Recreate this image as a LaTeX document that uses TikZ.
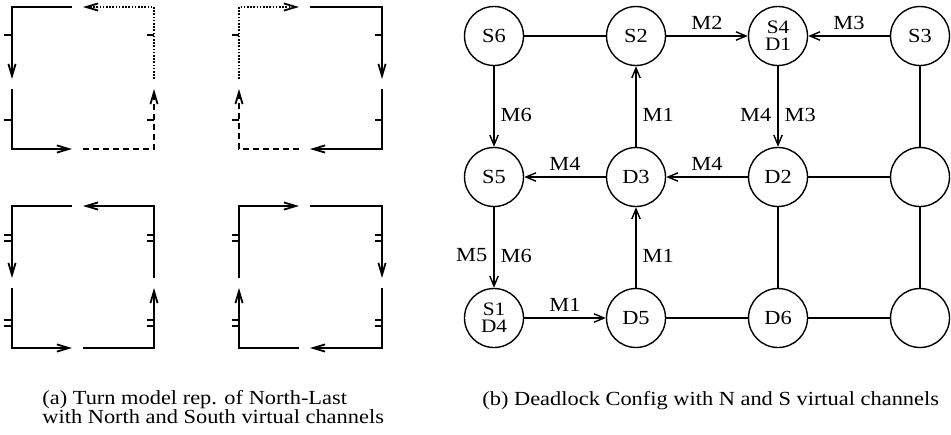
\documentclass[tikz,border=0pt]{standalone}
\usepackage{fontspec}
\setmainfont{Liberation Serif}[FakeStretch=1.12]
\usetikzlibrary{arrows.meta,positioning}

\begin{document}
\begin{tikzpicture}[
    x=0.5pt,y=-0.5pt,
    turn/.style={line width=0.9pt,-{Straight Barb[length=6pt,width=3.6pt]}},
    vcdot/.style={dash pattern=on 0.8pt off 0.8pt},
    vcdash/.style={dash pattern=on 3pt off 2pt},
    notch/.style={line width=0.9pt},
    router/.style={circle,draw,line width=0.7pt,minimum size=29.5pt,inner sep=0pt,font=\fontsize{10}{12}\selectfont},
    router2/.style={router,align=center,font=\fontsize{9.5}{8.5}\selectfont},
    arr/.style={line width=0.7pt,-{Straight Barb[length=5pt,width=4.2pt]}},
    link/.style={line width=0.7pt},
    lbl/.style={inner sep=3pt,font=\fontsize{10}{12}\selectfont},
    vlbl/.style={lbl,yshift=-4pt},
    capt/.style={align=left,inner sep=0pt,font=\fontsize{10}{9.5}\selectfont}
  ]
  \useasboundingbox (0,0) rectangle (951,434);

  % (a) turn models, North and South virtual channels
  \draw[turn] (72,7) -- (12,7) -- (12,79);
  \draw[turn] (12,89) -- (12,149) -- (72,149);
  \draw[turn,vcdash] (83,149) -- (154,149) -- (154,89);
  \draw[turn,vcdot] (154,79) -- (154,7) -- (83,7);
  \draw[turn,vcdot] (239,79) -- (239,7) -- (299,7);
  \draw[turn] (310,7) -- (382,7) -- (382,79);
  \draw[turn] (382,89) -- (382,149) -- (310,149);
  \draw[turn,vcdash] (299,149) -- (239,149) -- (239,89);
  \foreach \y in {35,120} {
    \draw[notch] (4,\y) -- (12,\y);
    \draw[notch] (147,\y) -- (154,\y);
    \draw[notch] (232,\y) -- (239,\y);
    \draw[notch] (375,\y) -- (382,\y);
  }

  \draw[turn] (72,206) -- (12,206) -- (12,278);
  \draw[turn] (12,288) -- (12,348) -- (72,348);
  \draw[turn] (83,348) -- (154,348) -- (154,288);
  \draw[turn] (154,278) -- (154,206) -- (83,206);
  \draw[turn] (239,278) -- (239,206) -- (299,206);
  \draw[turn] (310,206) -- (382,206) -- (382,278);
  \draw[turn] (382,288) -- (382,348) -- (310,348);
  \draw[turn] (299,348) -- (239,348) -- (239,288);
  \foreach \y in {235,241,320,326} {
    \draw[notch] (4,\y) -- (12,\y);
    \draw[notch] (147,\y) -- (154,\y);
    \draw[notch] (232,\y) -- (239,\y);
    \draw[notch] (375,\y) -- (382,\y);
  }

  \node[capt,anchor=base west] (capa) at (42,423) {(a) Turn model rep. of North-Last\\with North and South virtual channels};

  % (b) deadlock configuration
  \node[router] (s6) at (494,36) {S6};
  \node[router] (s2) at (636,36) {S2};
  \node[router2] (s4) at (778,36) {S4\\D1};
  \node[router] (s3) at (920,36) {S3};
  \node[router] (s5) at (494,177) {S5};
  \node[router] (d3) at (636,177) {D3};
  \node[router] (d2) at (778,177) {D2};
  \node[router] (e1) at (920,177) {};
  \node[router2] (s1) at (494,318) {S1\\D4};
  \node[router] (d5) at (636,318) {D5};
  \node[router] (d6) at (778,318) {D6};
  \node[router] (e2) at (920,318) {};

  \draw[link] (s6) -- (s2);
  \draw[arr] (s2) -- node[lbl,above] {M2} (s4);
  \draw[arr] (s3) -- node[lbl,above] {M3} (s4);
  \draw[link] (s3) -- (e1);
  \draw[arr] (s6) -- node[vlbl,right] {M6} (s5);
  \draw[arr] (d3) -- node[vlbl,right] {M1} (s2);
  \draw[arr] (s4) -- node[vlbl,left] {M4} node[vlbl,right] {M3} (d2);
  \draw[arr] (d3) -- node[lbl,above] {M4} (s5);
  \draw[arr] (d2) -- node[lbl,above] {M4} (d3);
  \draw[link] (d2) -- (e1);
  \draw[arr] (s5) -- node[vlbl,left] {M5} node[vlbl,right] {M6} (s1);
  \draw[arr] (d5) -- node[vlbl,right] {M1} (d3);
  \draw[link] (d2) -- (d6);
  \draw[link] (e1) -- (e2);
  \draw[arr] (s1) -- node[lbl,above] {M1} (d5);
  \draw[link] (d5) -- (d6);
  \draw[link] (d6) -- (e2);

  \node[capt,anchor=base west] (capb) at (482,405) {(b) Deadlock Config with N and S virtual channels};
\end{tikzpicture}
\end{document}
